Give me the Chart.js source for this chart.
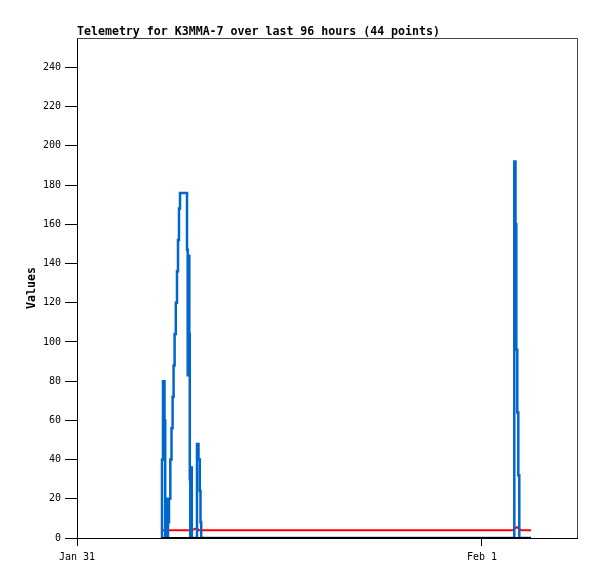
<!DOCTYPE html>
<html>
<head>
<meta charset="utf-8">
<script src="https://cdn.jsdelivr.net/npm/chart.js@4"></script>
<style>
body { margin: 0; background: #fff; }
</style>
</head>
<body>
<canvas id="myChart" width="597" height="579"></canvas>
<script>
// hours since Jan 31 00:00
let hours = [
    5.025, 5.037, 5.096, 5.185, 5.227, 5.256, 5.304, 5.393, 5.452, 5.530,
    5.600, 5.665, 5.724, 5.784, 5.855, 5.926, 5.985, 6.044, 6.104, 6.519,
    6.560, 6.596, 6.655, 6.684, 6.714, 6.773, 6.803, 7.111, 7.200, 7.277,
    7.319, 7.360, 25.867, 25.914, 25.985, 26.032, 26.092, 26.151, 26.210, 26.341,
    26.904
];

let blueValues = [
    0, 40, 80, 60, 0, 20, 0, 8, 20, 40,
    56, 72, 88, 104, 120, 136, 152, 168, 176, 147,
    83, 144, 104, 30, 0, 36, 0, 48, 40, 24,
    8, 0, 0, 192, 160, 96, 64, 32, 0, 0,
    0
];

let redValues = [
    4, 4, 4, 4, 4, 4, 4, 4, 4, 4,
    4, 4, 4, 4, 4, 4, 4, 4, 4, 4,
    4, 4, 4, 4, 4, 4, 4, 5, 4, 4,
    4, 4, 4, 5, 5, 5.5, 5.5, 5, 4.5, 4,
    4
];

let blackValues = [
    0, 0, 0, 0, 0, 0, 0, 0, 0, 0,
    0, 0, 0, 0, 0, 0, 0, 0, 0, 0,
    0, 0, 0, 0, 0, 0, 0, 0, 0, 0,
    0, 0, 0, 0, 0, 0, 0, 0, 0, 0,
    0
];

let xTickHours = [0, 24];
let xTickLabels = ['Jan 31', 'Feb 1'];
let yTicks = [0, 20, 40, 60, 80, 100, 120, 140, 160, 180, 200, 220, 240];

function toPoints(values) {
    return hours.map((h, i) => ({ x: h, y: values[i] }));
}

// gnuplot-style frame, title and y label
let frame = {
    id: 'frame',
    afterDraw(chart) {
        let ctx = chart.ctx;
        let a = chart.chartArea;
        ctx.save();
        ctx.strokeStyle = '#444';
        ctx.lineWidth = 1;
        ctx.beginPath();
        ctx.moveTo(a.left, a.top + 0.5);
        ctx.lineTo(a.right + 0.5, a.top + 0.5);
        ctx.lineTo(a.right + 0.5, a.bottom);
        ctx.stroke();

        ctx.fillStyle = '#000';
        ctx.font = 'bold 11.6px "DejaVu Sans Mono"';
        ctx.textBaseline = 'alphabetic';
        ctx.textAlign = 'left';
        ctx.fillText('Telemetry for K3MMA-7 over last 96 hours (44 points)', a.left, 35);

        ctx.translate(32, 288);
        ctx.rotate(-Math.PI / 2);
        ctx.textAlign = 'center';
        ctx.textBaseline = 'middle';
        ctx.fillText('Values', 0, 0);
        ctx.restore();
    }
};

Chart.defaults.font.family = '"DejaVu Sans Mono"';
Chart.defaults.font.size = 10;
Chart.defaults.color = '#000';

let myChart = document.getElementById('myChart').getContext('2d');

let chart = new Chart(myChart, {
    type: 'line',
    data: {
        datasets: [{
            data: toPoints(blueValues),
            borderColor: '#0066cc',
            borderWidth: 2.5,
            stepped: true,
            pointRadius: 0,
            order: 1
        }, {
            data: toPoints(redValues),
            borderColor: '#ff0000',
            borderWidth: 2,
            tension: 0,
            pointRadius: 0,
            order: 2
        }, {
            data: toPoints(blackValues),
            borderColor: '#000000',
            borderWidth: 2,
            stepped: true,
            pointRadius: 0,
            order: 0
        }]
    },
    options: {
        responsive: false,
        animation: false,
        layout: {
            padding: { left: 0, top: 38, right: 20, bottom: 0 }
        },
        plugins: {
            legend: { display: false },
            tooltip: { enabled: false },
            title: { display: false }
        },
        scales: {
            x: {
                type: 'linear',
                min: 0,
                max: 500 / 16.875,
                afterBuildTicks: (scale) => {
                    scale.ticks = xTickHours.map(v => ({ value: v }));
                },
                afterFit: (scale) => { scale.height = 41; },
                ticks: {
                    autoSkip: false,
                    maxRotation: 0,
                    padding: 5,
                    callback: (value) => xTickLabels[xTickHours.indexOf(value)]
                },
                grid: {
                    drawOnChartArea: false,
                    drawTicks: true,
                    tickLength: 8,
                    color: '#000'
                },
                border: { display: true, color: '#000', width: 1 }
            },
            y: {
                min: 0,
                max: 255,
                afterBuildTicks: (scale) => {
                    scale.ticks = yTicks.map(v => ({ value: v }));
                },
                afterFit: (scale) => { scale.width = 77; },
                ticks: {
                    padding: 4
                },
                grid: {
                    drawOnChartArea: false,
                    drawTicks: true,
                    tickLength: 12,
                    color: '#000'
                },
                border: { display: true, color: '#000', width: 1 }
            }
        }
    },
    plugins: [frame]
});
</script>
</body>
</html>
